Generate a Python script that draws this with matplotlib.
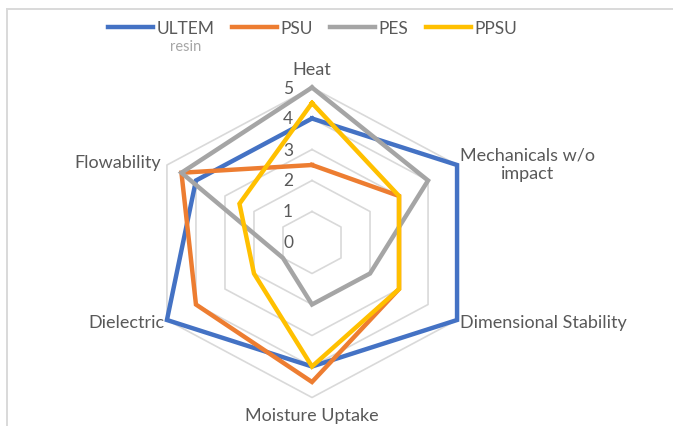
import numpy as np
import matplotlib
matplotlib.use('Agg')
import matplotlib.pyplot as plt
from matplotlib.lines import Line2D

categories = ['Heat', 'Mechanicals w/o\nimpact', 'Dimensional Stability',
              'Moisture Uptake', 'Dielectric', 'Flowability']
series_names = ['ULTEM', 'PSU', 'PES', 'PPSU']
ultem = [4, 5, 5, 4, 5, 4]
psu = [2.5, 3, 3, 4.5, 4, 4.5]
pes = [5, 4, 2, 2, 1, 4.5]
ppsu = [4.5, 3, 3, 4, 2, 2.5]
ticks = [0, 1, 2, 3, 4, 5]

colors = ['#4472C4', '#ED7D31', '#A5A5A5', '#FFC000']
text_col = '#595959'
grid_col = '#d9d9d9'

plt.rcParams['font.family'] = ['Lato', 'DejaVu Sans']

W, H = 673, 427
fig = plt.figure(figsize=(W / 100, H / 100), dpi=100)

# polar axes stretched a bit wider than tall, like the source
cx, cy = 312, 243.5
rx, ry = 167.5, 155
ax = fig.add_axes([(cx - rx) / W, (H - cy - ry) / H, 2 * rx / W, 2 * ry / H],
                  projection='polar')
ax.set_aspect('auto')
ax.set_theta_offset(np.pi / 2)
ax.set_theta_direction(-1)
ax.set_ylim(0, 5)
ax.grid(False)
ax.spines['polar'].set_visible(False)
ax.set_xticks([])
ax.set_yticks([])
ax.patch.set_visible(False)

angles = np.linspace(0, 2 * np.pi, len(categories), endpoint=False)
closed = np.append(angles, angles[0])

# hexagon rings
for t in ticks[1:]:
    ax.plot(closed, [t] * len(closed), color=grid_col, lw=1.2,
            clip_on=False, zorder=1)

for name, vals, c in zip(series_names, [ultem, psu, pes, ppsu], colors):
    v = np.append(vals, vals[0])
    ax.plot(closed, v, color=c, lw=3.2, label=name, clip_on=False,
            solid_joinstyle='miter', zorder=3)

# radial tick labels along the top axis
for t in ticks:
    ax.annotate(str(t), (0, t), xytext=(-19, 0), textcoords='offset pixels',
                ha='right', va='center', fontsize=12.5, color=text_col,
                annotation_clip=False)

# category labels
lab_pos = [(5.6, 'center', 'center'), (5.1, 'left', 'center'),
           (5.1, 'left', 'center'), (5.55, 'center', 'center'),
           (5.1, 'right', 'center'), (5.2, 'right', 'center')]
for a, lab, (r, ha, va) in zip(angles, categories, lab_pos):
    ax.text(a, r, lab, ha=ha, va=va, fontsize=13, color=text_col,
            multialignment='center')

leg = fig.legend(loc='center', bbox_to_anchor=(312.5 / W, 1 - 29 / H),
                 ncol=4, frameon=False, fontsize=12.5, handlelength=2.6,
                 handletextpad=0.2, columnspacing=1.0, labelcolor=text_col)
for h in leg.legend_handles:
    h.set_linewidth(3.2)
fig.text(186 / W, 1 - 47 / H, 'resin', ha='center', va='center',
         fontsize=10.5, color='#a6a6a6')

# chart frame (top and left edges only visible)
fig.add_artist(Line2D([7 / W, 1], [1 - 10 / H, 1 - 10 / H], color=grid_col,
                      lw=1.4, transform=fig.transFigure))
fig.add_artist(Line2D([7 / W, 7 / W], [1 - 10 / H, 0], color=grid_col,
                      lw=1.4, transform=fig.transFigure))

fig.savefig('out.png', dpi=100)
